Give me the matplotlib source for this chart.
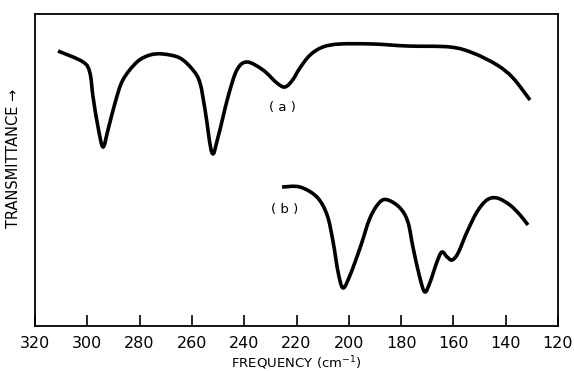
import matplotlib
matplotlib.use("Agg")
import matplotlib.pyplot as plt
from matplotlib.path import Path
from matplotlib.patches import PathPatch

# Spectrum (a): frequency (cm^-1) and transmittance (arbitrary units)
freq_a = [311.2, 301.6, 299.0, 297.8, 295.9, 294.0, 292.1, 289.4, 286.4, 281.0,
          276.0, 271.1, 264.6, 259.6, 256.9, 254.9, 252.3, 250.0, 246.2, 242.8,
          238.9, 232.8, 227.5, 224.4, 221.5, 218.7, 214.8, 209.9, 203.4, 190.7,
          177.7, 161.3, 152.5, 143.3, 137.2, 130.7]
trans_a = [275, 264, 253, 229, 199, 179, 196, 223, 246, 264,
           271, 272, 268, 256, 243, 215, 173, 189, 229, 256,
           264, 256, 243, 239, 246, 258, 271, 279, 282, 282,
           280, 279, 273, 261, 248, 226]

# Spectrum (b)
freq_b = [225.5, 218.7, 212.2, 208.3, 206.0, 204.1, 202.2, 199.5, 195.7, 191.9,
          188.1, 185.0, 180.4, 177.4, 175.4, 172.8, 170.9, 168.9, 166.3, 164.4,
          162.4, 160.5, 158.2, 154.8, 151.0, 147.2, 143.3, 138.4, 134.5, 131.5]
trans_b = [139, 139, 129, 111, 84, 54, 38, 51, 78, 108,
           124, 126, 118, 104, 78, 48, 34, 44, 64, 74,
           69, 66, 73, 94, 114, 126, 128, 121, 111, 101]

xticks = [320, 300, 280, 260, 240, 220, 200, 180, 160, 140, 120]


def smooth_path(xs, ys):
    """Catmull-Rom curve through the data points, as cubic Bezier segments."""
    pts = list(zip(xs, ys))
    n = len(pts)
    verts = [pts[0]]
    codes = [Path.MOVETO]
    for i in range(n - 1):
        p0 = pts[i - 1] if i > 0 else pts[i]
        p1 = pts[i]
        p2 = pts[i + 1]
        p3 = pts[i + 2] if i + 2 < n else pts[i + 1]
        c1 = (p1[0] + (p2[0] - p0[0]) / 6, p1[1] + (p2[1] - p0[1]) / 6)
        c2 = (p2[0] - (p3[0] - p1[0]) / 6, p2[1] - (p3[1] - p1[1]) / 6)
        verts += [c1, c2, p2]
        codes += [Path.CURVE4] * 3
    return Path(verts, codes)


fig = plt.figure(figsize=(5.74, 3.71), dpi=100)
ax = fig.add_axes([35/574, 45/371, 523/574, 312/371])

for xs, ys in ((freq_a, trans_a), (freq_b, trans_b)):
    ax.add_patch(PathPatch(smooth_path(xs, ys), fill=False, edgecolor="black",
                           lw=2.6, joinstyle="round", capstyle="butt"))

ax.text(225.2, 219, "( a )", fontsize=9.5, ha="center", va="center")
ax.text(224.4, 116, "( b )", fontsize=9.5, ha="center", va="center")

ax.set_xlim(320, 120)
ax.set_ylim(0, 312)
ax.set_xticks(xticks)
ax.set_xticklabels([str(t) for t in xticks], fontsize=11.5)
ax.tick_params(axis="x", direction="in", length=8, width=1.2, pad=7)
ax.set_yticks([])
for s in ax.spines.values():
    s.set_linewidth(1.3)

ax.set_xlabel("FREQUENCY (cm$^{-1}$)", fontsize=9.5, labelpad=3)
fig.text(14/574, 1 - 158/371, "TRANSMITTANCE \u2192", rotation=90,
         fontsize=10.5, ha="center", va="center")

fig.savefig("out.png", dpi=100)
